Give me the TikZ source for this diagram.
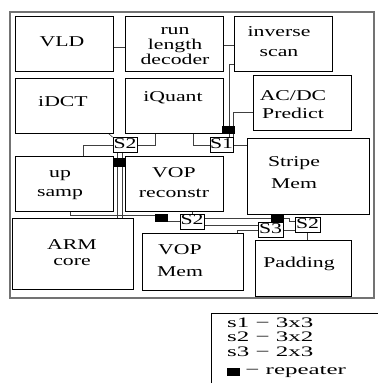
\documentclass[tikz,border=0pt]{standalone}
\usepackage{fontspec}
\setmainfont{Liberation Serif}
\usepackage{graphicx}
\usetikzlibrary{backgrounds}

\newcommand{\boxtext}[2]{\scalebox{1.45}[1]{\fontsize{15}{#1}\selectfont\begin{tabular}{@{}c@{}}#2\end{tabular}}}
\newcommand{\legtext}[1]{\scalebox{1.72}[1]{\fontsize{14.5}{14.5}\selectfont #1}}

\tikzset{
  blk/.style={draw, line width=0.7pt, inner sep=0pt},
  sw/.style={draw, fill=white, line width=0.6pt, inner sep=0pt},
  rep/.style={fill=black, inner sep=0pt},
  wire/.style={line width=0.6pt, black!75},
  lbl/.style={inner sep=0pt}
}

\begin{document}
\begin{tikzpicture}[x=1pt, y=-1pt]
\useasboundingbox (0,0) rectangle (378,385);

% chip outline
\draw[black!55, line width=1.2pt] (10,12) rectangle (374,298);

% blocks: name/x/y/width/height
\foreach \n/\x/\y/\w/\h in {vld/64/43.5/98/55, run/174/43.5/98/55, inv/283/43.5/98/55,
    idct/64/105.5/98/55, iquant/174/105.5/98/55, acdc/302/102.5/98/55,
    stripe/308/176/122/76, upsamp/64/183.5/98/55, vopr/174/183.5/98/55,
    arm/72.5/253.5/121/71, vopm/192.5/261.5/101/57, pad/303/268/96/56}
  \node[blk, minimum width=\w pt, minimum height=\h pt] (\n) at (\x,\y) {};

\node[lbl] (t-vld) at (62,44) {\boxtext{15}{VLD}};
\node[lbl] (t-run) at (175,47) {\boxtext{15}{run\\length\\decoder}};
\node[lbl] (t-inv) at (279,43) {\boxtext{20}{inverse\\scan}};
\node[lbl] (t-idct) at (63,104) {\boxtext{15}{iDCT}};
\node[lbl] (t-iquant) at (173,99) {\boxtext{15}{iQuant}};
\node[lbl] (t-acdc) at (293,106) {\boxtext{18}{AC/DC\\Predict}};
\node[lbl] (t-stripe) at (294,173) {\boxtext{22}{Stripe\\Mem}};
\node[lbl] (t-upsamp) at (60,183) {\boxtext{19}{up\\samp}};
\node[lbl] (t-vopr) at (174,183) {\boxtext{20}{VOP\\reconstr}};
\node[lbl] (t-arm) at (72,254) {\boxtext{16}{ARM\\core}};
\node[lbl] (t-vopm) at (180,261) {\boxtext{22}{VOP\\Mem}};
\node[lbl] (t-pad) at (299,264) {\boxtext{15}{Padding}};

% switches
\foreach \n/\t/\x/\y/\w in {s2a/S2/125/145/24, s1/S1/221.5/145/22, s2b/S2/192/221.5/24,
    s3/S3/270.5/230/25, s2c/S2/307.5/225/25}
  \node[sw, minimum width=\w pt, minimum height=14pt] (\n) at (\x,\y) {\boxtext{15}{\t}};

% repeaters
\foreach \n/\x/\y/\w/\h in {r1/228.5/130/13/8, r2/119.5/162.5/13/9, r3/161.5/218/13/8, r4/277.5/218/13/8}
  \node[rep, minimum width=\w pt, minimum height=\h pt] (\n) at (\x,\y) {};

\coordinate (ra) at (117,0);
\coordinate (rb) at (122,0);
\coordinate (rc) at (229,0);
\coordinate (rd) at (233,0);
\coordinate (lv) at (0,225);

\begin{pgfonlayer}{background}
\draw[wire] ([yshift=-3.5pt]vld.east) -- ([yshift=-3.5pt]run.west);
\draw[wire] ([yshift=-1.5pt]run.east) -- ([yshift=-1.5pt]inv.west);
\draw[wire] ([xshift=-5pt]idct.south east) -- (s2a.north west);
\draw[wire] (s2a.west) -| ([xshift=19pt]upsamp.north);
\draw[wire] (s2a.east) -| ([xshift=-19pt]iquant.south);
\draw[wire] (ra |- s2a.south) -- (ra |- arm.north);
\draw[wire] (rb |- s2a.south) -- (rb |- arm.north);
\draw[wire] ([xshift=6pt]upsamp.south) |- ([yshift=3pt]r3.west);
\draw[wire] (s2b.west) -- (s2b.west -| r3.east);
\draw[wire] (s2b.north) -- (s2b.north |- vopr.south);
\draw[wire] (r4.west) -- (r4.west -| s2b.east);
\draw[wire] (s2b.east |- lv) -- (s3.west |- lv);
\draw[wire] ([xshift=44.5pt]vopm.north) |- (s3.west);
\draw[wire] (s3.east) -- (s3.east -| s2c.west);
\draw[wire] (r4.east) -- ++(5,0) |- ([yshift=4pt]s2c.west);
\draw[wire] (s2c.south) -- (s2c.south |- pad.north);
\draw[wire] ([xshift=19pt]iquant.south) |- (s1.west);
\draw[wire] (s1.east) -- (s1.east -| stripe.west);
\draw[wire] (rc |- r1.south) -- (rc |- s1.north);
\draw[wire] (rd |- r1.south) -- (rd |- s1.north);
\draw[wire] ([yshift=-20.5pt]inv.west) -| (rc |- r1.north);
\draw[wire] ([yshift=-9.5pt]acdc.west) -| (rd |- r1.north);
\end{pgfonlayer}

% legend
\draw[line width=0.7pt] (211,383) |- (378,313);
\node[lbl, anchor=west] (l-s1) at (227,323) {\legtext{s1 − 3x3}};
\node[lbl, anchor=west] (l-s2) at (227,337) {\legtext{s2 − 3x2}};
\node[lbl, anchor=west] (l-s3) at (227,352) {\legtext{s3 − 2x3}};
\node[rep, minimum width=13pt, minimum height=8pt] (l-rep) at (233.5,372) {};
\node[lbl, anchor=west] (l-rtxt) at ([xshift=5pt]l-rep.east) {\legtext{− repeater}};
\end{tikzpicture}
\end{document}
